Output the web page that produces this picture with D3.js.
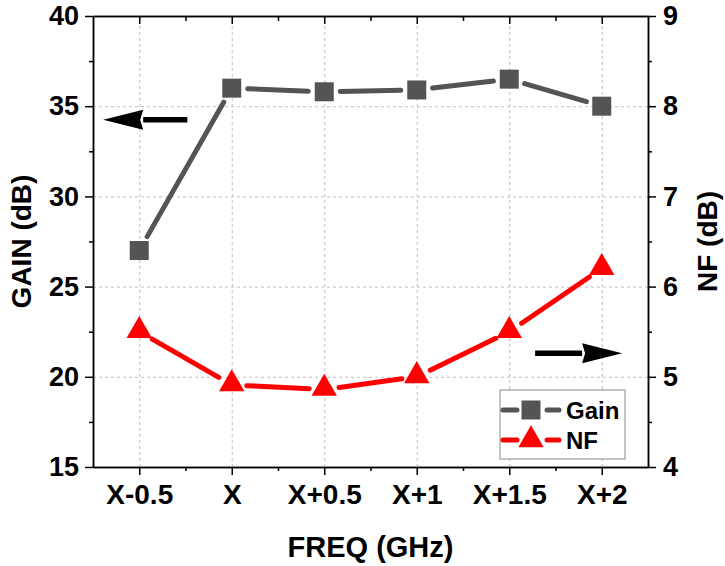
<!DOCTYPE html>
<html>
<head>
<meta charset="utf-8">
<title>Gain / NF</title>
<script src="https://cdn.jsdelivr.net/npm/d3@7"></script>
<style>
body { margin: 0; background: #fff; }
svg { font-family: "Liberation Sans", Arial, sans-serif; font-weight: bold; }
.axis path, .axis line { stroke: #000; stroke-width: 1.5; }
.axis text { font-size: 27px; font-weight: bold; fill: #000; }
.grid line { stroke: #c0c0c0; stroke-width: 1; stroke-dasharray: 3 3; }
.grid path { display: none; }
</style>
</head>
<body>
<script>
// categories and values
var freqs = ["X-0.5", "X", "X+0.5", "X+1", "X+1.5", "X+2"];
var gain = [27, 36, 35.8, 35.9, 36.5, 35];
var nf = [5.5, 4.91, 4.86, 5.0, 5.5, 6.2];
var gainTicks = [15, 20, 25, 30, 35, 40];
var nfTicks = [4, 5, 6, 7, 8, 9];

var width = 725, height = 566,
    xLeft = 93, xRight = 648, yTop = 16, yBottom = 467;

var x = d3.scaleLinear().domain([-0.5, freqs.length - 0.5]).range([xLeft, xRight]);
var y = d3.scaleLinear().domain([15, 40]).range([yBottom, yTop]);
var y2 = d3.scaleLinear().domain([4, 9]).range([yBottom, yTop]);

var svg = d3.select("body").append("svg")
    .attr("width", width)
    .attr("height", height);

var idx = d3.range(freqs.length);
var minorX = idx.map(function(i){ return i + 0.5; }).slice(0, -1);
var minorY = [17.5, 22.5, 27.5, 32.5, 37.5];
var minorY2 = [4.5, 5.5, 6.5, 7.5, 8.5];

// grid
svg.append("g").attr("class", "grid")
    .attr("transform", "translate(0," + yBottom + ")")
    .call(d3.axisBottom(x).tickValues(idx).tickSize(-(yBottom - yTop)).tickFormat(""));
svg.append("g").attr("class", "grid")
    .attr("transform", "translate(" + xLeft + ",0)")
    .call(d3.axisLeft(y).tickValues([20, 25, 30, 35]).tickSize(-(xRight - xLeft)).tickFormat(""));

// axes
var xAxis = svg.append("g").attr("class", "axis")
    .attr("transform", "translate(0," + yBottom + ")")
    .call(d3.axisBottom(x).tickValues(idx).tickSize(8).tickSizeOuter(0).tickPadding(9)
        .tickFormat(function(i){ return freqs[i]; }));
xAxis.selectAll("text").style("font-size", "28px");
svg.append("g").attr("class", "axis")
    .attr("transform", "translate(0," + yBottom + ")")
    .call(d3.axisBottom(x).tickValues(minorX).tickSize(4).tickSizeOuter(0).tickFormat(""));

svg.append("g").attr("class", "axis")
    .attr("transform", "translate(0," + yTop + ")")
    .call(d3.axisBottom(x).tickValues(idx).tickSize(8).tickSizeOuter(0).tickFormat(""));
svg.append("g").attr("class", "axis")
    .attr("transform", "translate(0," + yTop + ")")
    .call(d3.axisBottom(x).tickValues(minorX).tickSize(5).tickSizeOuter(0).tickFormat(""));

svg.append("g").attr("class", "axis")
    .attr("transform", "translate(" + xLeft + ",0)")
    .call(d3.axisLeft(y).tickValues(gainTicks).tickSize(8).tickSizeOuter(0).tickPadding(6)
        .tickFormat(d3.format("d")));
svg.append("g").attr("class", "axis")
    .attr("transform", "translate(" + xLeft + ",0)")
    .call(d3.axisLeft(y).tickValues(minorY).tickSize(4).tickSizeOuter(0).tickFormat(""));

svg.append("g").attr("class", "axis")
    .attr("transform", "translate(" + xRight + ",0)")
    .call(d3.axisRight(y2).tickValues(nfTicks).tickSize(8).tickSizeOuter(0).tickPadding(7)
        .tickFormat(d3.format("d")));
svg.append("g").attr("class", "axis")
    .attr("transform", "translate(" + xRight + ",0)")
    .call(d3.axisRight(y2).tickValues(minorY2).tickSize(4).tickSizeOuter(0).tickFormat(""));

// axis titles
svg.append("text")
    .attr("transform", "translate(31," + ((yTop + yBottom) / 2) + ") rotate(-90)")
    .attr("text-anchor", "middle")
    .style("font-size", "28px")
    .text("GAIN (dB)");
svg.append("text")
    .attr("transform", "translate(717," + ((yTop + yBottom) / 2) + ") rotate(-90)")
    .attr("text-anchor", "middle")
    .style("font-size", "28px")
    .text("NF (dB)");
svg.append("text")
    .attr("x", (xLeft + xRight) / 2)
    .attr("y", 557)
    .attr("text-anchor", "middle")
    .style("font-size", "29px")
    .text("FREQ (GHz)");

// series lines with gaps near the markers
function gapped(pts, gap){
    var segs = [];
    for (var i = 0; i < pts.length - 1; i++) {
        var a = pts[i], b = pts[i + 1];
        var dx = b[0] - a[0], dy = b[1] - a[1], len = Math.sqrt(dx * dx + dy * dy);
        var ux = dx / len, uy = dy / len;
        segs.push([[a[0] + ux * gap, a[1] + uy * gap], [b[0] - ux * gap, b[1] - uy * gap]]);
    }
    return segs;
}

var gainPts = gain.map(function(v, i){ return [x(i), y(v)]; });
var nfPts = nf.map(function(v, i){ return [x(i), y2(v)]; });
var line = d3.line();

svg.selectAll("path.gainline")
    .data(gapped(gainPts, 16))
    .enter().append("path")
    .attr("class", "gainline")
    .attr("d", line)
    .attr("stroke", "#545454").attr("stroke-width", 5)
    .attr("stroke-linecap", "round").attr("fill", "none");

svg.selectAll("path.nfline")
    .data(gapped(nfPts, 15))
    .enter().append("path")
    .attr("class", "nfline")
    .attr("d", line)
    .attr("stroke", "#ff0000").attr("stroke-width", 5)
    .attr("stroke-linecap", "round").attr("fill", "none");

var sq = d3.symbol().type(d3.symbolSquare).size(19 * 19);
var tri = d3.symbol().type(d3.symbolTriangle).size(280);

svg.selectAll("path.gainpt")
    .data(gainPts)
    .enter().append("path")
    .attr("class", "gainpt")
    .attr("transform", function(d){ return "translate(" + d[0] + "," + d[1] + ")"; })
    .attr("d", sq)
    .attr("fill", "#545454");

svg.selectAll("path.nfpt")
    .data(nfPts)
    .enter().append("path")
    .attr("class", "nfpt")
    .attr("transform", function(d){ return "translate(" + d[0] + "," + (d[1] - 1) + ")"; })
    .attr("d", tri)
    .attr("fill", "#ff0000");

// arrows showing which axis each series uses
var arrows = [
    {from: [0.52, 34.25], to: [-0.39, 34.25]},
    {from: [4.28, 21.3], to: [5.22, 21.3]}
];
arrows.forEach(function(a){
    var x1 = x(a.from[0]), x2 = x(a.to[0]), yy = y(a.from[1]);
    var dir = x2 > x1 ? 1 : -1;
    var head = 40;
    svg.append("line")
        .attr("x1", x1).attr("y1", yy)
        .attr("x2", x2 - dir * head).attr("y2", yy)
        .attr("stroke", "#000").attr("stroke-width", 5.5);
    svg.append("path")
        .attr("d", "M" + x2 + "," + yy +
            "L" + (x2 - dir * head) + "," + (yy - 10) +
            "L" + (x2 - dir * (head - 3)) + "," + yy +
            "L" + (x2 - dir * head) + "," + (yy + 10) + "Z")
        .attr("fill", "#000");
});

// legend
var lg = svg.append("g").attr("transform", "translate(500,390)");
lg.append("rect")
    .attr("width", 125).attr("height", 69)
    .attr("fill", "#fff").attr("stroke", "#888").attr("stroke-width", 1);
var legend = [
    {name: "Gain", color: "#545454", sym: sq, dy: 20},
    {name: "NF", color: "#ff0000", sym: tri, dy: 50}
];
legend.forEach(function(d){
    lg.append("line").attr("x1", 3).attr("x2", 59).attr("y1", d.dy).attr("y2", d.dy)
        .attr("stroke", d.color).attr("stroke-width", 5).attr("stroke-linecap", "round")
        .attr("stroke-dasharray", "14 30");
    lg.append("path")
        .attr("transform", "translate(31," + d.dy + ")")
        .attr("d", d.sym).attr("fill", d.color);
    lg.append("text").attr("x", 66).attr("y", d.dy + 9)
        .style("font-size", "24px").text(d.name);
});
</script>
</body>
</html>
